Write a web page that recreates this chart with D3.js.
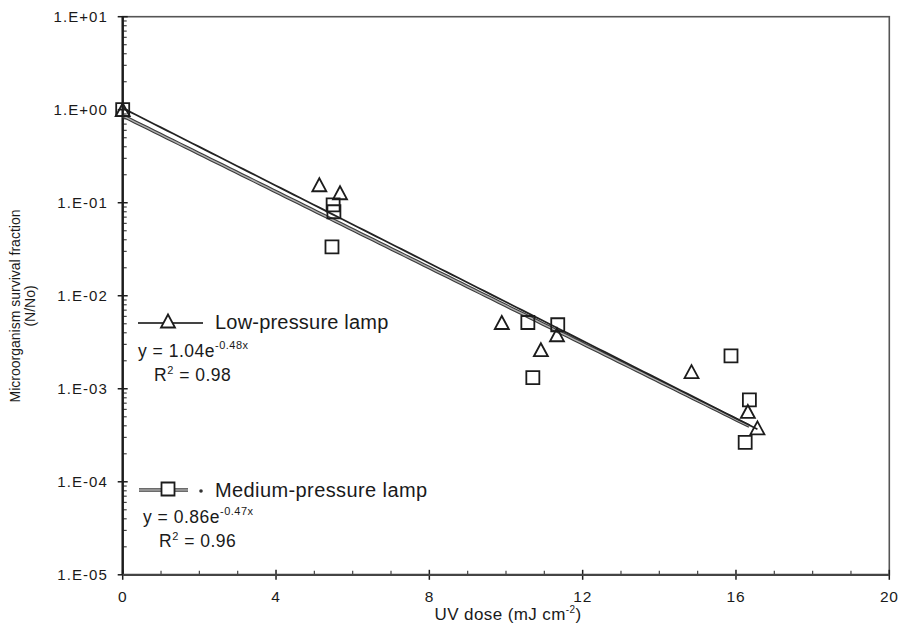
<!DOCTYPE html>
<html>
<head>
<meta charset="utf-8">
<script src="https://cdn.jsdelivr.net/npm/d3@7"></script>
<style>
  html, body { margin: 0; padding: 0; background: #fff; }
  svg { display: block; }
  text { font-family: "Liberation Sans", Arial, sans-serif; fill: #1a1a1a; }
</style>
</head>
<body>
<svg id="chart" width="903" height="626"></svg>
<script>
// Survival of micro-organisms vs UV dose, low- and medium-pressure lamps
const doseLow = [0, 5.13, 5.67, 9.89, 10.91, 11.33, 14.84, 16.31, 16.56];
const survLow = [1.0, 0.156, 0.128, 0.00516, 0.00263, 0.00381, 0.00153, 0.00057, 0.00038];

const doseMed = [0, 5.49, 5.51, 5.46, 10.57, 10.70, 11.35, 15.87, 16.35, 16.24];
const survMed = [1.0, 0.095, 0.080, 0.0336, 0.00516, 0.00132, 0.00488, 0.00226, 0.00076, 0.000265];

// exponential fits y = a * exp(-k x)
const fitLow = { a: 1.04, k: 0.48, r2: "0.98" };
const fitMed = { a: 0.86, k: 0.47, r2: "0.96" };

const xTicks = [0, 4, 8, 12, 16, 20];
const yExponents = [1, 0, -1, -2, -3, -4, -5];

const svg = d3.select("#chart");
const x = d3.scaleLinear().domain([0, 20]).range([122.7, 889.3]);
const y = d3.scaleLog().domain([1e-5, 10]).range([574.8, 16.7]);

const ink = "#1c1c1c";

// frame (top and right)
svg.append("rect")
  .attr("x", x(0)).attr("y", y(10))
  .attr("width", x(20) - x(0)).attr("height", y(1e-5) - y(10))
  .attr("fill", "none").attr("stroke", "#555").attr("stroke-width", 1.6);

// y axis: major ticks crossing, minor log ticks inside
const yMinor = [];
for (let e = -5; e < 1; e++) for (let m = 2; m <= 9; m++) yMinor.push(m * Math.pow(10, e));
const gy = svg.append("g");
gy.selectAll("line.minor").data(yMinor).join("line")
  .attr("x1", x(0)).attr("x2", x(0) + 4)
  .attr("y1", d => y(d)).attr("y2", d => y(d))
  .attr("stroke", "#444").attr("stroke-width", 1.2);
gy.selectAll("line.major").data(yExponents).join("line")
  .attr("x1", x(0) - 5).attr("x2", x(0) + 5)
  .attr("y1", d => y(Math.pow(10, d))).attr("y2", d => y(Math.pow(10, d)))
  .attr("stroke", ink).attr("stroke-width", 1.5);
gy.append("line")
  .attr("x1", x(0)).attr("x2", x(0)).attr("y1", y(10)).attr("y2", y(1e-5))
  .attr("stroke", ink).attr("stroke-width", 2.4);
const fmtExp = e => "1.E" + (e >= 0 ? "+" : "-") + String(Math.abs(e)).padStart(2, "0");
gy.selectAll("text").data(yExponents).join("text")
  .attr("x", 108).attr("y", d => y(Math.pow(10, d)) + 5.5)
  .attr("text-anchor", "end")
  .style("font-size", "15px").style("letter-spacing", "1.1px")
  .text(fmtExp);

// x axis: major ticks crossing, minor ticks at each unit pointing up
const xMinor = d3.range(1, 20).filter(v => v % 4 !== 0);
const gx = svg.append("g");
gx.selectAll("line.minor").data(xMinor).join("line")
  .attr("x1", d => x(d)).attr("x2", d => x(d))
  .attr("y1", y(1e-5)).attr("y2", y(1e-5) - 4)
  .attr("stroke", "#444").attr("stroke-width", 1.2);
gx.selectAll("line.major").data(xTicks).join("line")
  .attr("x1", d => x(d)).attr("x2", d => x(d))
  .attr("y1", y(1e-5) - 5).attr("y2", y(1e-5) + 5)
  .attr("stroke", ink).attr("stroke-width", 1.5);
gx.append("line")
  .attr("x1", x(0)).attr("x2", x(20)).attr("y1", y(1e-5)).attr("y2", y(1e-5))
  .attr("stroke", "#444").attr("stroke-width", 2.2);
gx.selectAll("text").data(xTicks).join("text")
  .attr("x", d => x(d)).attr("y", 602)
  .attr("text-anchor", "middle")
  .style("font-size", "15.5px").style("letter-spacing", "0.8px")
  .text(d => d);

// axis titles
const xt = svg.append("text")
  .attr("x", (x(0) + x(20)) / 2 + 2).attr("y", 620)
  .attr("text-anchor", "middle").style("font-size", "17px").style("letter-spacing", "0.4px");
xt.append("tspan").text("UV dose (mJ cm");
xt.append("tspan").attr("dy", -7).style("font-size", "10px").text("-2");
xt.append("tspan").attr("dy", 7).text(")");

const yt = svg.append("g").attr("transform", "translate(20,306) rotate(-90)");
yt.append("text").attr("text-anchor", "middle").attr("y", 0)
  .style("font-size", "14px").text("Microorganism survival fraction");
yt.append("text").attr("text-anchor", "middle").attr("y", 15)
  .style("font-size", "14px").text("(N/No)");

// fitted curves
function fitPoints(f, xmax) {
  return d3.range(0, 101).map(i => {
    const xv = xmax * i / 100;
    return [xv, f.a * Math.exp(-f.k * xv)];
  });
}
const line = d3.line().x(d => x(d[0])).y(d => y(d[1]));
const medPts = fitPoints(fitMed, d3.max(doseMed));
const lowPts = fitPoints(fitLow, d3.max(doseLow));
svg.append("path").attr("d", line(medPts))
  .attr("fill", "none").attr("stroke", "#3a3a3a").attr("stroke-width", 3.6);
svg.append("path").attr("d", line(medPts))
  .attr("fill", "none").attr("stroke", "#b0b0b0").attr("stroke-width", 1.4);
svg.append("path").attr("d", line(lowPts))
  .attr("fill", "none").attr("stroke", "#222").attr("stroke-width", 1.8);

// markers
const triPath = (cx, cy) => `M${cx},${cy - 6.5}L${cx + 7},${cy + 6.5}L${cx - 7},${cy + 6.5}Z`;
const sqPath = (cx, cy) => `M${cx - 6.5},${cy - 6.5}h13v13h-13Z`;

const lowData = doseLow.map((d, i) => [d, survLow[i]]);
const medData = doseMed.map((d, i) => [d, survMed[i]]);

svg.append("g").selectAll("path").data(medData).join("path")
  .attr("d", d => sqPath(x(d[0]), y(d[1])))
  .attr("fill", "none").attr("stroke", ink).attr("stroke-width", 1.8);
svg.append("g").selectAll("path").data(lowData).join("path")
  .attr("d", d => triPath(x(d[0]), y(d[1])))
  .attr("fill", "none").attr("stroke", ink).attr("stroke-width", 1.8)
  .attr("stroke-linejoin", "miter");

// legend
function equation(g, xPos, yPos, f) {
  const t = g.append("text").attr("x", xPos).attr("y", yPos)
    .style("font-size", "17.5px").style("letter-spacing", "0.5px");
  t.append("tspan").text(`y = ${f.a.toFixed(2)}e`);
  t.append("tspan").attr("dy", -8).style("font-size", "11px").text(`-${f.k.toFixed(2)}x`);
  const r = g.append("text").attr("x", xPos + 16).attr("y", yPos + 24)
    .style("font-size", "17.5px").style("letter-spacing", "0.5px");
  r.append("tspan").text("R");
  r.append("tspan").attr("dy", -7).style("font-size", "11px").text("2");
  r.append("tspan").attr("dy", 7).text(` = ${f.r2}`);
}
const leg = svg.append("g");
// low-pressure entry
leg.append("line").attr("x1", 138).attr("x2", 203).attr("y1", 323).attr("y2", 323)
  .attr("stroke", "#444").attr("stroke-width", 2);
leg.append("path").attr("d", triPath(168, 321)).attr("fill", "#fff")
  .attr("stroke", ink).attr("stroke-width", 1.8);
leg.append("text").attr("x", 215).attr("y", 329)
  .style("font-size", "20px").style("letter-spacing", "0.2px").text("Low-pressure lamp");
equation(leg, 138, 357, fitLow);

// medium-pressure entry
leg.append("line").attr("x1", 139).attr("x2", 188).attr("y1", 490).attr("y2", 490)
  .attr("stroke", "#3a3a3a").attr("stroke-width", 3.6);
leg.append("line").attr("x1", 139).attr("x2", 188).attr("y1", 490).attr("y2", 490)
  .attr("stroke", "#b0b0b0").attr("stroke-width", 1.4);
leg.append("path").attr("d", sqPath(168, 489)).attr("fill", "#fff")
  .attr("stroke", ink).attr("stroke-width", 1.8);
leg.append("circle").attr("cx", 201).attr("cy", 491).attr("r", 1.8).attr("fill", "#333");
leg.append("text").attr("x", 215).attr("y", 497)
  .style("font-size", "20px").style("letter-spacing", "0.4px").text("Medium-pressure lamp");
equation(leg, 143, 523, fitMed);
</script>
</body>
</html>
